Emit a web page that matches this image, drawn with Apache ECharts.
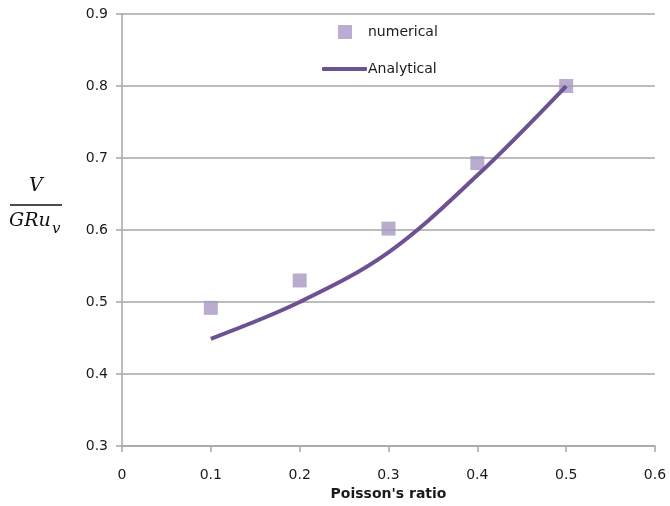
<!DOCTYPE html>
<html><head><meta charset="utf-8">
<script src="https://cdn.jsdelivr.net/npm/echarts@6/dist/echarts.min.js"></script>
<style>html,body{margin:0;padding:0;background:#fff}#c{width:670px;height:506px}</style>
</head><body><div id="c"></div>
<script>
const xValues = [0.1, 0.2, 0.3, 0.4, 0.5];
const numerical = [0.492, 0.530, 0.602, 0.693, 0.800];
const analytical = [0.449, 0.500, 0.569, 0.676, 0.800];
const xTicks = [0, 0.1, 0.2, 0.3, 0.4, 0.5, 0.6];
const yTicks = [0.3, 0.4, 0.5, 0.6, 0.7, 0.8, 0.9];

const chart = echarts.init(document.getElementById('c'));
const grey = '#a6a6a6';
const font = 'DejaVu Sans';
chart.setOption({
  animation: false,
  backgroundColor: '#fff',
  grid: {left: 122, right: 15, top: 14, bottom: 57},
  legend: [
    {data: ['numerical'], left: 333, top: 20, itemWidth: 14, itemHeight: 14, icon: 'rect',
     textStyle: {fontFamily: font, fontSize: 14, color: '#1a1a1a', padding: [0, 0, 0, 11]}},
    {data: [{name: 'Analytical', icon: 'roundRect'}], left: 317, top: 57, itemWidth: 45, itemHeight: 4,
     textStyle: {fontFamily: font, fontSize: 14, color: '#1a1a1a', padding: [0, 0, 0, -4]}}
  ],
  xAxis: {
    type: 'value', min: xTicks[0], max: xTicks[xTicks.length - 1], interval: 0.1,
    name: "Poisson's ratio", nameLocation: 'middle', nameGap: 36,
    nameTextStyle: {fontFamily: font, fontSize: 14, fontWeight: 'bold', color: '#1a1a1a'},
    axisLine: {show: true, lineStyle: {color: grey, width: 1.5}},
    axisTick: {show: true, inside: false, length: 6, lineStyle: {color: grey, width: 1.5}},
    axisLabel: {fontFamily: font, fontSize: 14, color: '#1a1a1a', margin: 22,
      formatter: v => String(Math.round(v * 10) / 10)},
    splitLine: {show: false}
  },
  yAxis: {
    type: 'value', min: yTicks[0], max: yTicks[yTicks.length - 1], interval: 0.1,
    axisLine: {show: true, lineStyle: {color: grey, width: 1.5}},
    axisTick: {show: true, inside: false, length: 6, lineStyle: {color: grey, width: 1.5}},
    axisLabel: {fontFamily: font, fontSize: 14, color: '#1a1a1a', margin: 14,
      formatter: v => (Math.round(v * 10) / 10).toFixed(1)},
    splitLine: {show: true, lineStyle: {color: grey, width: 1.5}}
  },
  graphic: [
    {type: 'text', left: 29, top: 177, style: {text: 'V', fontFamily: 'DejaVu Serif', fontStyle: 'italic', fontSize: 19, fill: '#111'}},
    {type: 'line', shape: {x1: 10, y1: 205, x2: 62, y2: 205}, style: {stroke: '#111', lineWidth: 1.5}},
    {type: 'text', left: 9, top: 212, style: {text: 'GRu', fontFamily: 'DejaVu Serif', fontStyle: 'italic', fontSize: 19, fill: '#111'}},
    {type: 'text', left: 52, top: 222, style: {text: 'v', fontFamily: 'DejaVu Serif', fontStyle: 'italic', fontSize: 15, fill: '#111'}}
  ],
  series: [
    {name: 'numerical', type: 'scatter', symbol: 'rect', symbolSize: 14,
     itemStyle: {color: '#a797c3'},
     data: xValues.map((x, i) => [x, numerical[i]]), z: 3},
    {name: 'Analytical', type: 'line', smooth: 0.35, showSymbol: false, symbol: 'none',
     lineStyle: {color: '#6c5293', width: 4}, itemStyle: {color: '#6c5293'},
     data: xValues.map((x, i) => [x, analytical[i]]), z: 4}
  ]
});
</script></body></html>
